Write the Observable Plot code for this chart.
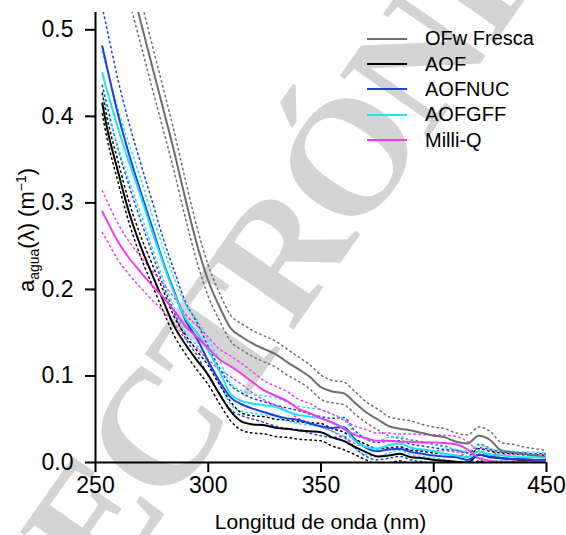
<!DOCTYPE html>
<html><head><meta charset="utf-8">
<script src="https://cdn.jsdelivr.net/npm/d3@7"></script>
<script src="https://cdn.jsdelivr.net/npm/@observablehq/plot@0.6"></script>
<style>
body{margin:0;background:#fff;}
#wrap{position:relative;width:566px;height:535px;font-family:"Liberation Sans",Arial,sans-serif;}
#legend{position:absolute;left:367px;top:26px;font-size:20px;color:#000;}
.row{display:flex;align-items:center;height:25.4px;}
.sw{width:40px;height:2px;margin-right:18px;}
</style></head><body><div id="wrap"><div id="chart"></div><div id="legend"></div></div>
<script>
const wavelength = [253,255,260,265,270,275,280,285,290,295,300,305,310,315,320,325,330,335,340,345,350,355,360,365,370,375,380,385,390,395,400,405,410,415,420,425,430,435,440,445,450];

const seriesNames = ["OFw Fresca","AOF","AOFNUC","AOFGFF","Milli-Q"];
const seriesColors = ["#6e6e6e","#000000","#1f3fdc","#1fe3f2","#f03cf0"];

const ofwFresca = [0.68,0.66,0.61,0.56,0.51,0.459,0.409,0.358,0.303,0.252,0.210,0.180,0.155,0.145,0.137,0.131,0.125,0.116,0.108,0.099,0.087,0.082,0.080,0.069,0.058,0.050,0.042,0.039,0.037,0.034,0.031,0.029,0.024,0.022,0.031,0.026,0.014,0.012,0.010,0.008,0.006];
const aof = [0.415,0.388,0.336,0.288,0.250,0.218,0.187,0.157,0.136,0.118,0.101,0.079,0.059,0.047,0.044,0.043,0.040,0.039,0.037,0.036,0.035,0.029,0.025,0.018,0.012,0.007,0.008,0.010,0.006,0.005,0.003,0.002,0.001,0.000,0.009,0.006,0.005,0.004,0.003,0.003,0.002];
const aofnuc = [0.481,0.458,0.402,0.355,0.313,0.273,0.232,0.197,0.164,0.143,0.117,0.094,0.075,0.067,0.062,0.058,0.054,0.051,0.049,0.045,0.042,0.040,0.041,0.027,0.017,0.013,0.015,0.016,0.012,0.010,0.008,0.007,0.006,0.003,0.009,0.007,0.005,0.004,0.004,0.003,0.003];
const aofgff = [0.450,0.431,0.386,0.346,0.308,0.268,0.230,0.195,0.166,0.150,0.129,0.105,0.079,0.071,0.068,0.066,0.064,0.059,0.055,0.053,0.051,0.046,0.040,0.025,0.018,0.016,0.020,0.022,0.017,0.015,0.013,0.010,0.008,0.006,0.013,0.009,0.008,0.007,0.006,0.006,0.005];
const milliQ = [0.290,0.280,0.255,0.236,0.220,0.205,0.191,0.175,0.157,0.145,0.132,0.119,0.111,0.102,0.092,0.083,0.077,0.071,0.062,0.057,0.051,0.046,0.039,0.032,0.028,0.025,0.025,0.024,0.024,0.023,0.023,0.0225,0.021,0.015,0.005,0.002,0.001,0.001,0.001,0.001,0.001];

const ofwFrescaErr = [0.030,0.030,0.028,0.027,0.026,0.025,0.024,0.023,0.022,0.020,0.018,0.016,0.015,0.015,0.015,0.015,0.015,0.015,0.014,0.014,0.014,0.013,0.013,0.013,0.012,0.012,0.011,0.011,0.011,0.010,0.010,0.010,0.010,0.010,0.010,0.010,0.009,0.009,0.008,0.008,0.008];
const aofErr = [0.012,0.012,0.012,0.012,0.012,0.012,0.012,0.011,0.011,0.011,0.011,0.011,0.011,0.010,0.010,0.010,0.010,0.010,0.010,0.010,0.010,0.010,0.010,0.009,0.009,0.009,0.009,0.008,0.008,0.008,0.008,0.008,0.007,0.007,0.007,0.007,0.006,0.006,0.006,0.006,0.006];
const aofnucErr = [0.045,0.044,0.040,0.036,0.033,0.030,0.027,0.024,0.021,0.019,0.017,0.015,0.014,0.013,0.012,0.012,0.012,0.012,0.011,0.011,0.011,0.011,0.011,0.010,0.010,0.010,0.010,0.009,0.009,0.009,0.009,0.008,0.008,0.008,0.008,0.008,0.007,0.007,0.007,0.007,0.007];
const aofgffErr = [0.025,0.024,0.022,0.021,0.020,0.019,0.018,0.017,0.016,0.015,0.014,0.013,0.012,0.012,0.011,0.011,0.011,0.011,0.010,0.010,0.010,0.010,0.010,0.009,0.009,0.009,0.009,0.008,0.008,0.008,0.008,0.007,0.007,0.007,0.007,0.007,0.006,0.006,0.006,0.006,0.006];
const milliQErr = [0.024,0.023,0.021,0.019,0.018,0.017,0.016,0.015,0.014,0.013,0.013,0.012,0.012,0.012,0.012,0.011,0.011,0.011,0.011,0.011,0.010,0.010,0.010,0.010,0.010,0.009,0.009,0.009,0.009,0.009,0.009,0.009,0.009,0.009,0.008,0.008,0.008,0.008,0.008,0.008,0.008];

const xTicks = [250,300,350,400,450];
const yTicks = [0,0.1,0.2,0.3,0.4,0.5];
const watermark = ["ELECTRÓNICO"];

const valueSets = [ofwFresca, aof, aofnuc, aofgff, milliQ];
const errSets = [ofwFrescaErr, aofErr, aofnucErr, aofgffErr, milliQErr];
const rows = seriesNames.flatMap((name, k) => wavelength.map((w, i) => ({
  serie: name, lambda: w, value: valueSets[k][i],
  lo: valueSets[k][i] - errSets[k][i], hi: valueSets[k][i] + errSets[k][i]
})));

const dotted = {x: "lambda", z: "serie", stroke: "serie", strokeWidth: 1.5, strokeDasharray: "1.5,3.5", clip: true, curve: "monotone-x"};

const svg = Plot.plot({
  width: 566, height: 535,
  marginLeft: 95, marginRight: 20, marginTop: 12, marginBottom: 73,
  style: {fontFamily: "Liberation Sans, Arial, sans-serif", fontSize: "23px", color: "#000", background: "#fff"},
  x: {domain: [250, 450]},
  y: {domain: [0, 0.52]},
  color: {domain: seriesNames, range: seriesColors},
  marks: [
    Plot.text(watermark, {text: d => d, frameAnchor: "top-left", dx: 185, dy: 244, rotate: -55,
      fontSize: 165, fontFamily: "Liberation Serif, serif", fontWeight: "bold", fill: "#d4d4d4",
      textAnchor: "middle", lineAnchor: "middle"}),
    Plot.line(rows, {...dotted, y: "lo"}),
    Plot.line(rows, {...dotted, y: "hi"}),
    Plot.line(rows, {x: "lambda", y: "value", z: "serie", stroke: "serie", strokeWidth: 2, clip: true, curve: "monotone-x"}),
    Plot.ruleX([250], {stroke: "#000", strokeWidth: 2}),
    Plot.ruleY([0], {stroke: "#000", strokeWidth: 2}),
    Plot.axisY({ticks: yTicks, tickSize: 10, tickPadding: 12, tickFormat: d3.format(".1f"), label: null, strokeWidth: 2, fontSize: 23}),
    Plot.axisX({ticks: xTicks, tickSize: 10, tickPadding: 4, tickFormat: d => String(d), label: null, strokeWidth: 2, fontSize: 23})
  ]
});

const s = d3.select(svg);
s.selectAll("text").filter(function() { return this.textContent === "ELECTRÓNICO"; })
  .attr("letter-spacing", "-6px");
s.append("text").attr("x", 320.5).attr("y", 529).attr("text-anchor", "middle")
  .attr("font-size", 21).attr("fill", "#000").text("Longitud de onda (nm)");
const yl = s.append("text").attr("transform", "translate(34,230) rotate(-90)")
  .attr("text-anchor", "middle").attr("font-size", 22).attr("fill", "#000");
yl.append("tspan").text("a");
yl.append("tspan").attr("font-size", 14).attr("dy", 5).text("agua");
yl.append("tspan").attr("dy", -5).text("(λ) (m");
yl.append("tspan").attr("font-size", 14).attr("dy", -8).text("−1");
yl.append("tspan").attr("dy", 8).text(")");

document.getElementById("chart").appendChild(svg);

const legend = d3.select("#legend");
seriesNames.forEach((n, i) => {
  const r = legend.append("div").attr("class", "row");
  r.append("div").attr("class", "sw").style("background", seriesColors[i]);
  r.append("span").text(n);
});
</script></body></html>
